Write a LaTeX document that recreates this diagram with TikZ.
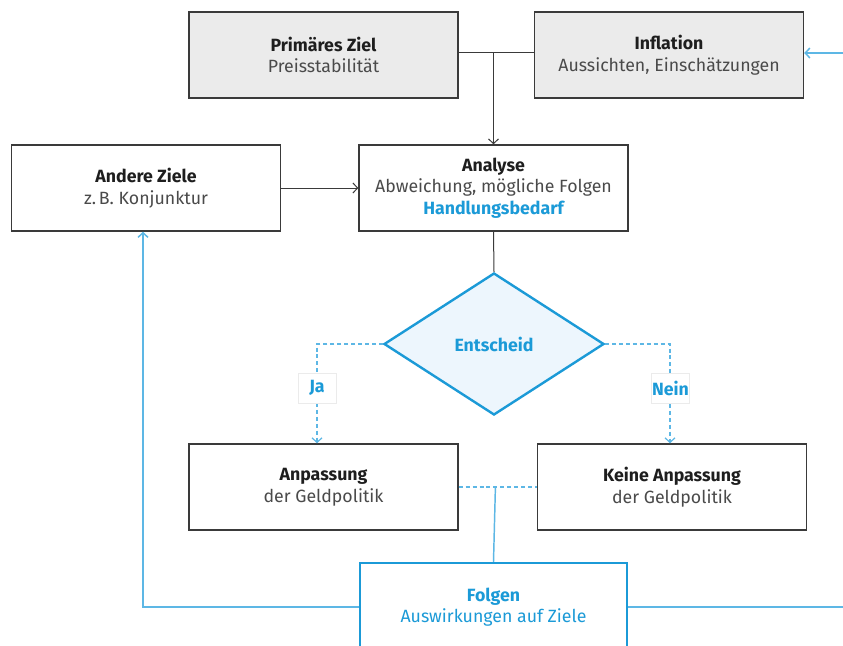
\documentclass[tikz,border=0pt]{standalone}
\usepackage{fontspec}
\setmainfont{Fira Sans}
\usetikzlibrary{arrows.meta,shapes.geometric,calc}
\definecolor{boxgray}{HTML}{EBEBEB}
\definecolor{edge}{HTML}{3A3A3A}
\definecolor{bluestrong}{HTML}{1B9AD7}
\definecolor{bluelight}{HTML}{5DB7E5}
\definecolor{diafill}{HTML}{EDF6FD}
\definecolor{txtdark}{HTML}{1E1E1E}
\definecolor{txtsub}{HTML}{4A4A4A}
\tikzset{
  box/.style={draw=edge, line width=1.1pt, minimum width=201.75pt, minimum height=64.5pt, inner sep=0pt, align=center, text=txtdark, font=\fontsize{13.3}{16.2}\selectfont},
  graybox/.style={box, fill=boxgray},
  conn/.style={draw=edge, line width=0.75pt},
  tip/.style={-{Straight Barb[length=3.5pt,width=7.5pt]}},
  dashblue/.style={draw=bluelight, line width=0.9pt, dash pattern=on 3pt off 2.2pt},
  feed/.style={draw=bluelight, line width=1.1pt},
  lbl/.style={solid, fill=white, draw=black!8, line width=0.4pt, text=bluestrong, font=\fontsize{13.3}{14}\selectfont\bfseries, minimum width=28.5pt, minimum height=22.5pt, inner sep=0pt}
}
\newcommand{\ttl}[1]{{\bfseries #1}}
\newcommand{\sub}[1]{{\color{txtsub}#1}}
\begin{document}
\begin{tikzpicture}[x=0.75pt,y=-0.75pt]
\clip (0,0) rectangle (843,646);
\fill[white] (0,0) rectangle (843,646);
\node[graybox] (prim) at (323.5,55) {\ttl{Primäres Ziel}\\\sub{Preisstabilität}};
\node[graybox] (infl) at (669,55) {\ttl{Inflation}\\\sub{Aussichten, Einschätzungen}};
\node[box] (andere) at (146,188) {\ttl{Andere Ziele}\\\sub{z.\,B. Konjunktur}};
\node[box] (ana) at (493.5,188) {\ttl{Analyse}\\\sub{Abweichung, mögliche Folgen}\\{\color{bluestrong}\bfseries Handlungsbedarf}};
\node[diamond, draw=bluestrong, fill=diafill, line width=1.8pt, minimum width=165pt, minimum height=106.5pt, inner sep=0pt, text=bluestrong, font=\fontsize{13.3}{14}\selectfont\bfseries] (dec) at (494,344) {Entscheid};
\node[box] (anp) at (323.5,487) {\ttl{Anpassung}\\\sub{der Geldpolitik}};
\node[box] (keine) at (672,487) {\ttl{Keine Anpassung}\\\sub{der Geldpolitik}};
\node[box, draw=bluestrong, line width=1.8pt, minimum width=200.25pt, minimum height=66pt, fill=white, text=bluestrong] (folg) at (493.5,607) {\bfseries Folgen\\Auswirkungen auf Ziele};
\coordinate (rin) at (845,53);
\coordinate (rout) at (845,607);
% top connectors
\draw[conn] ([yshift=2.25pt]prim.east) -- ([yshift=2.25pt]infl.west);
\draw[conn,tip] ([yshift=2.25pt]prim.east -| ana.north) -- (ana.north);
\draw[conn,tip] (andere.east) -- (ana.west);
\draw[conn] (ana.south) -- (dec.north);
% decision branches
\draw[dashblue,tip] (dec.west) -| ([xshift=-4.875pt]anp.north);
\draw[dashblue,tip] (dec.east) -| ([xshift=-1.5pt]keine.north);
\node[lbl] (ja) at (317,388) {Ja};
\node[lbl] (nein) at (670.5,388) {Nein};
% outcomes to Folgen
\draw[dashblue] (anp.east) -- (keine.west);
\draw[feed] ($(anp.east)!0.47!(keine.west)$) -- (folg.north);
% feedback loop
\draw[feed,tip] (folg.west) -| ([xshift=-2.25pt]andere.south);
\draw[feed] (folg.east) -- (rout);
\draw[feed,tip] (rin) -- ([yshift=1.5pt]infl.east);
\end{tikzpicture}
\end{document}
